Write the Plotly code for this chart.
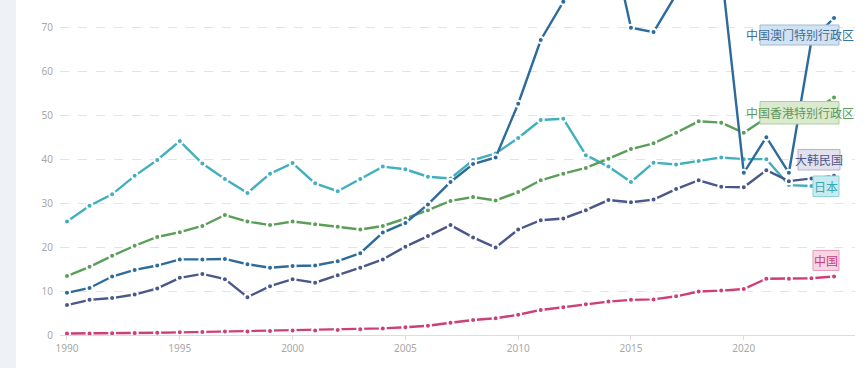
import plotly.graph_objects as go

years = list(range(1990, 2025))

macao = [9.6, 10.7, 13.3, 14.8, 15.8, 17.2, 17.2, 17.3, 16.1, 15.3,
         15.7, 15.8, 16.8, 18.6, 23.3, 25.5, 29.7, 34.8, 38.9, 40.4,
         52.6, 67.1, 75.8, 89.0, 93.0, 69.9, 68.9, 77.7, 86.0, 83.3,
         36.9, 45.0, 36.9, 67.0, 72.1]
hongkong = [13.4, 15.5, 18.0, 20.3, 22.3, 23.4, 24.8, 27.3, 25.8, 25.0,
            25.8, 25.2, 24.6, 24.0, 24.8, 26.5, 28.4, 30.5, 31.4, 30.6,
            32.5, 35.2, 36.7, 38.0, 40.1, 42.3, 43.6, 46.0, 48.6, 48.3,
            46.0, 49.4, 48.8, 50.8, 54.0]
korea = [6.8, 8.0, 8.4, 9.2, 10.6, 13.0, 13.9, 12.7, 8.6, 11.1,
         12.7, 11.9, 13.6, 15.3, 17.2, 20.1, 22.5, 25.0, 22.2, 19.9,
         24.0, 26.1, 26.5, 28.4, 30.7, 30.2, 30.8, 33.2, 35.2, 33.7,
         33.6, 37.5, 35.0, 35.6, 36.2]
japan = [25.8, 29.4, 32.0, 36.2, 39.8, 44.1, 39.0, 35.5, 32.3, 36.7,
         39.1, 34.5, 32.7, 35.5, 38.3, 37.7, 36.0, 35.6, 39.8, 41.3,
         44.8, 48.9, 49.2, 40.9, 38.3, 34.8, 39.2, 38.8, 39.6, 40.4,
         40.0, 40.0, 34.1, 33.9, 32.5]
china = [0.35, 0.35, 0.4, 0.45, 0.5, 0.6, 0.7, 0.8, 0.8, 0.9,
         1.0, 1.05, 1.15, 1.3, 1.5, 1.75, 2.1, 2.8, 3.4, 3.8,
         4.6, 5.7, 6.3, 7.0, 7.6, 8.0, 8.1, 8.8, 9.9, 10.1,
         10.45, 12.8, 12.8, 12.9, 13.3]

names = ["中国", "日本", "大韩民国", "中国香港特别行政区", "中国澳门特别行政区"]
series = [china, japan, korea, hongkong, macao]
colors = ["#cc3f7a", "#41b0be", "#4a5889", "#5a9e58", "#2c6b9b"]

y_ticks = [0, 10, 20, 30, 40, 50, 60, 70]
x_ticks = [1990, 1995, 2000, 2005, 2010, 2015, 2020]

W, H = 865, 368
ML, MR, MT, MB = 60, 10, 0, 33
PW, PH = W - ML - MR, H - MT - MB


def px(x):
    return (x - ML) / PW


def py(y):
    return (H - MB - y) / PH


fig = go.Figure()
for name, vals, col in zip(names, series, colors):
    fig.add_trace(go.Scatter(
        x=years, y=vals, name=name, mode="lines+markers",
        line=dict(color=col, width=2.4),
        marker=dict(color=col, size=6, line=dict(color="white", width=2)),
        showlegend=False,
    ))

shapes = [dict(type="rect", xref="paper", yref="paper",
               x0=px(0), x1=px(16), y0=py(H), y1=py(0),
               fillcolor="#eef1f5", line=dict(width=0), layer="above",
               opacity=1)]

# end labels: (text, box px x0, x1, y0, y1, fill, border, text color)
labels = [
    ("中国澳门特别行政区", 760, 839, 25, 45, "#d3e2f0", "#9fbcd6", "#3d6f98"),
    ("中国香港特别行政区", 760, 839, 101.5, 124, "#dbeacf", "#a9cf9f", "#5f985c"),
    ("大韩民国", 798, 840, 149.5, 170, "#e2e2ef", "#b1b4d2", "#4f5688"),
    ("日本", 813, 839, 176, 196.5, "#c8ebee", "#8ed3db", "#37a8b6"),
    ("中国", 813, 839, 250.5, 270.5, "#f8d5e3", "#e69bbb", "#c6417b"),
]
annotations = []
for text, x0, x1, y0, y1, fill, border, tc in labels:
    shapes.append(dict(type="rect", xref="paper", yref="paper",
                       x0=px(x0), x1=px(x1), y0=py(y1), y1=py(y0),
                       fillcolor=fill, line=dict(color=border, width=1),
                       layer="above", opacity=1))
    annotations.append(dict(xref="paper", yref="paper",
                            x=px((x0 + x1) / 2), y=py((y0 + y1) / 2),
                            text=text, showarrow=False,
                            xanchor="center", yanchor="middle",
                            font=dict(size=12, color=tc,
                                      family="Noto Sans CJK SC, Noto Sans")))

fig.update_layout(
    width=W, height=H,
    margin=dict(l=ML, r=MR, t=MT, b=MB),
    paper_bgcolor="white", plot_bgcolor="white",
    font=dict(family="Noto Sans, Noto Sans CJK SC", size=10, color="#a8a8a8"),
    shapes=shapes, annotations=annotations,
    xaxis=dict(range=[1989.69, 2024.93], tickvals=x_ticks,
               ticktext=[str(v) for v in x_ticks],
               showgrid=False, zeroline=False, showline=False,
               ticks="outside", ticklen=4, tickcolor="#dddddd",
               tickfont=dict(size=10, color="#a8a8a8")),
    yaxis=dict(range=[0, 76.2], tickvals=y_ticks,
               ticktext=[str(v) for v in y_ticks],
               showgrid=True, gridcolor="#e3e3e3", griddash="dash", gridwidth=1,
               zeroline=True, zerolinecolor="#dcdcdc", zerolinewidth=1,
               showline=False, ticks="", ticklabelstandoff=6,
               tickfont=dict(size=10, color="#a8a8a8")),
)

fig.write_html(
    "out.html",
    config={"displayModeBar": False},
    post_script="document.body.style.margin='0';document.body.style.overflow='hidden';",
)
